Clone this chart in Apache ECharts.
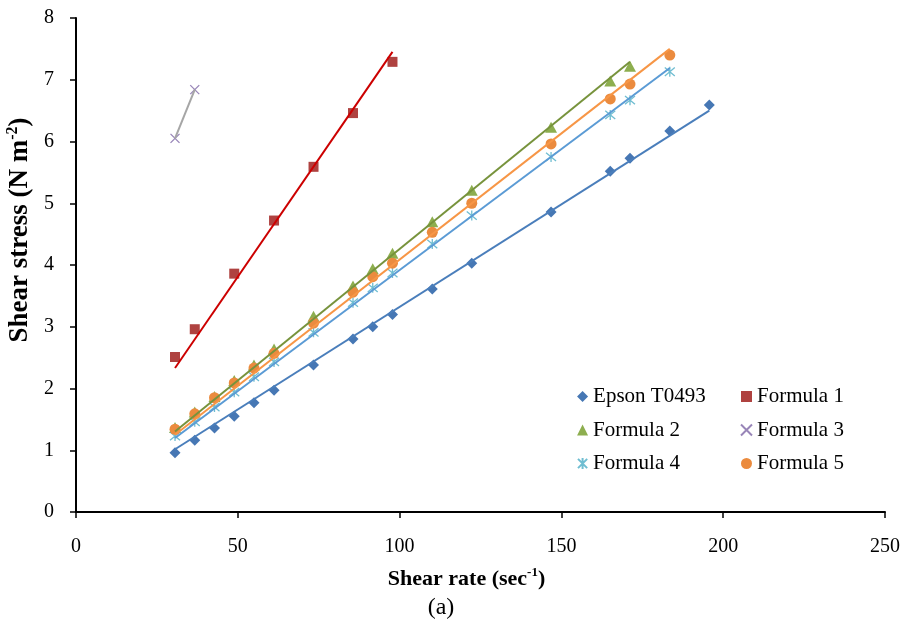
<!DOCTYPE html>
<html>
<head>
<meta charset="utf-8">
<script src="https://cdn.jsdelivr.net/npm/echarts@6/dist/echarts.min.js"></script>
<style>
html, body { margin: 0; padding: 0; background: #fff; }
#chart { width: 908px; height: 628px; }
</style>
</head>
<body>
<div id="chart"></div>
<script>
// shear rates (sec-1) of the viscometer speeds
var shearRate = [30.6, 36.7, 42.8, 48.9, 55.0, 61.2, 73.4, 85.6, 91.7, 97.8, 110.1, 122.3, 146.8, 165.1, 171.2, 183.5, 195.7];
// shear stress (N m-2) per ink
var epsonStress = [0.96, 1.16, 1.36, 1.55, 1.77, 1.97, 2.38, 2.80, 3.00, 3.20, 3.61, 4.03, 4.86, 5.52, 5.73, 6.17, 6.59];
var f1Rate = [30.6, 36.7, 48.9, 61.2, 73.4, 85.6, 97.8];
var f1Stress = [2.51, 2.96, 3.86, 4.72, 5.59, 6.46, 7.29];
var f2Stress = [1.37, 1.62, 1.87, 2.13, 2.38, 2.64, 3.17, 3.66, 3.94, 4.19, 4.70, 5.21, 6.23, 6.98, 7.22];
var f3Rate = [30.6, 36.7];
var f3Stress = [6.05, 6.84];
var f4Stress = [1.23, 1.46, 1.70, 1.94, 2.19, 2.43, 2.91, 3.39, 3.63, 3.87, 4.34, 4.80, 5.75, 6.43, 6.67, 7.13];
var f5Stress = [1.34, 1.59, 1.85, 2.09, 2.33, 2.57, 3.06, 3.56, 3.81, 4.03, 4.53, 5.00, 5.96, 6.69, 6.93, 7.40];

var serif = '"Liberation Serif", "Times New Roman", serif';

function pairs(xs, ys) {
    var out = [];
    for (var i = 0; i < ys.length; i++) {
        out.push([xs[i], ys[i]]);
    }
    return out;
}

// linear trendline forced through the origin (Newtonian fit)
function originFit(xs, ys) {
    var sxy = 0, sxx = 0;
    for (var i = 0; i < ys.length; i++) {
        sxy += xs[i] * ys[i];
        sxx += xs[i] * xs[i];
    }
    var k = sxy / sxx;
    var x0 = xs[0], x1 = xs[ys.length - 1];
    return [[x0, k * x0], [x1, k * x1]];
}

var inks = [
    {name: 'Epson T0493', x: shearRate, y: epsonStress, symbol: 'diamond', size: 11, color: '#4677B4', line: '#4A7EBB'},
    {name: 'Formula 1', x: f1Rate, y: f1Stress, symbol: 'rect', size: 10, color: '#AF4240', line: '#CC0000'},
    {name: 'Formula 2', x: shearRate, y: f2Stress, symbol: 'triangle', size: [12, 11], color: '#8DAE4F', line: '#77933C'},
    {name: 'Formula 3', x: f3Rate, y: f3Stress, symbol: 'path://M0,0L10,10M10,0L0,10', size: 9, color: '#7E66A6', line: '#A6A6A6', stroke: true},
    {name: 'Formula 4', x: shearRate, y: f4Stress, symbol: 'path://M0,0L10,10M10,0L0,10M5,-1L5,11', size: 10, color: '#4BACC6', line: '#5B9BD5', stroke: true},
    {name: 'Formula 5', x: shearRate, y: f5Stress, symbol: 'circle', size: 11, color: '#EB8B3E', line: '#F79646'}
];

var series = [];
inks.forEach(function (ink) {
    series.push({
        name: ink.name,
        type: 'scatter',
        data: pairs(ink.x, ink.y),
        symbol: ink.symbol,
        symbolSize: ink.size,
        itemStyle: ink.stroke
            ? {color: 'rgba(0,0,0,0)', borderColor: ink.color, borderWidth: 1.3}
            : {color: ink.color, opacity: 1}
    });
});
inks.forEach(function (ink) {
    // Formula 3 only has two points: its trendline just joins them
    var fit = ink.name === 'Formula 3' ? pairs(ink.x, ink.y) : originFit(ink.x, ink.y);
    series.push({
        name: ink.name + ' fit',
        type: 'line',
        data: fit,
        symbol: 'none',
        silent: true,
        lineStyle: {color: ink.line, width: 2}
    });
});

var axisBlack = {lineStyle: {color: '#000', width: 2}};
var legendBase = {
    orient: 'vertical',
    top: 381,
    itemWidth: 11,
    itemHeight: 11,
    itemGap: 12.5,
    textStyle: {fontFamily: serif, fontSize: 21, color: '#000', lineHeight: 21}
};

var mychart = echarts.init(document.getElementById('chart'));
var option = {
    animation: false,
    backgroundColor: '#fff',
    grid: {left: 76, right: 23, top: 18, bottom: 116, outerBoundsMode: 'none'},
    legend: [
        Object.assign({left: 572, data: ['Epson T0493', 'Formula 2', 'Formula 4']}, legendBase),
        Object.assign({left: 735, data: ['Formula 1', 'Formula 3', 'Formula 5']}, legendBase)
    ],
    xAxis: {
        type: 'value',
        min: 0,
        max: 250,
        interval: 50,
        splitLine: {show: false},
        axisLine: axisBlack,
        axisTick: {length: 6, lineStyle: {color: '#000', width: 1.5}},
        axisLabel: {fontFamily: serif, fontSize: 20, color: '#000', margin: 25},
        name: '{b|Shear rate (sec}{s|-1}{b|)}',
        nameLocation: 'middle',
        nameGap: 54,
        nameTextStyle: {
            padding: [0, 28, 0, 0],
            rich: {
                b: {fontFamily: serif, fontSize: 22, fontWeight: 'bold', color: '#000', lineHeight: 26},
                s: {fontFamily: serif, fontSize: 13, fontWeight: 'bold', color: '#000', verticalAlign: 'top', lineHeight: 26}
            }
        }
    },
    yAxis: {
        type: 'value',
        min: 0,
        max: 8,
        interval: 1,
        splitLine: {show: false},
        axisLine: axisBlack,
        axisTick: {length: 6, lineStyle: {color: '#000', width: 1.5}},
        axisLabel: {fontFamily: serif, fontSize: 20, color: '#000', margin: 22},
        name: '{b|Shear stress (N m}{s|-2}{b|)}',
        nameLocation: 'middle',
        nameRotate: 90,
        nameGap: 38,
        nameTextStyle: {
            padding: [0, 0, 0, 70],
            rich: {
                b: {fontFamily: serif, fontSize: 27, fontWeight: 'bold', color: '#000', lineHeight: 30},
                s: {fontFamily: serif, fontSize: 16, fontWeight: 'bold', color: '#000', verticalAlign: 'top', lineHeight: 30}
            }
        }
    },
    graphic: [{
        type: 'text',
        x: 441,
        y: 608,
        style: {text: '(a)', font: '24px ' + serif, fill: '#000', align: 'center', verticalAlign: 'middle'}
    }],
    series: series
};
mychart.setOption(option);
</script>
</body>
</html>
